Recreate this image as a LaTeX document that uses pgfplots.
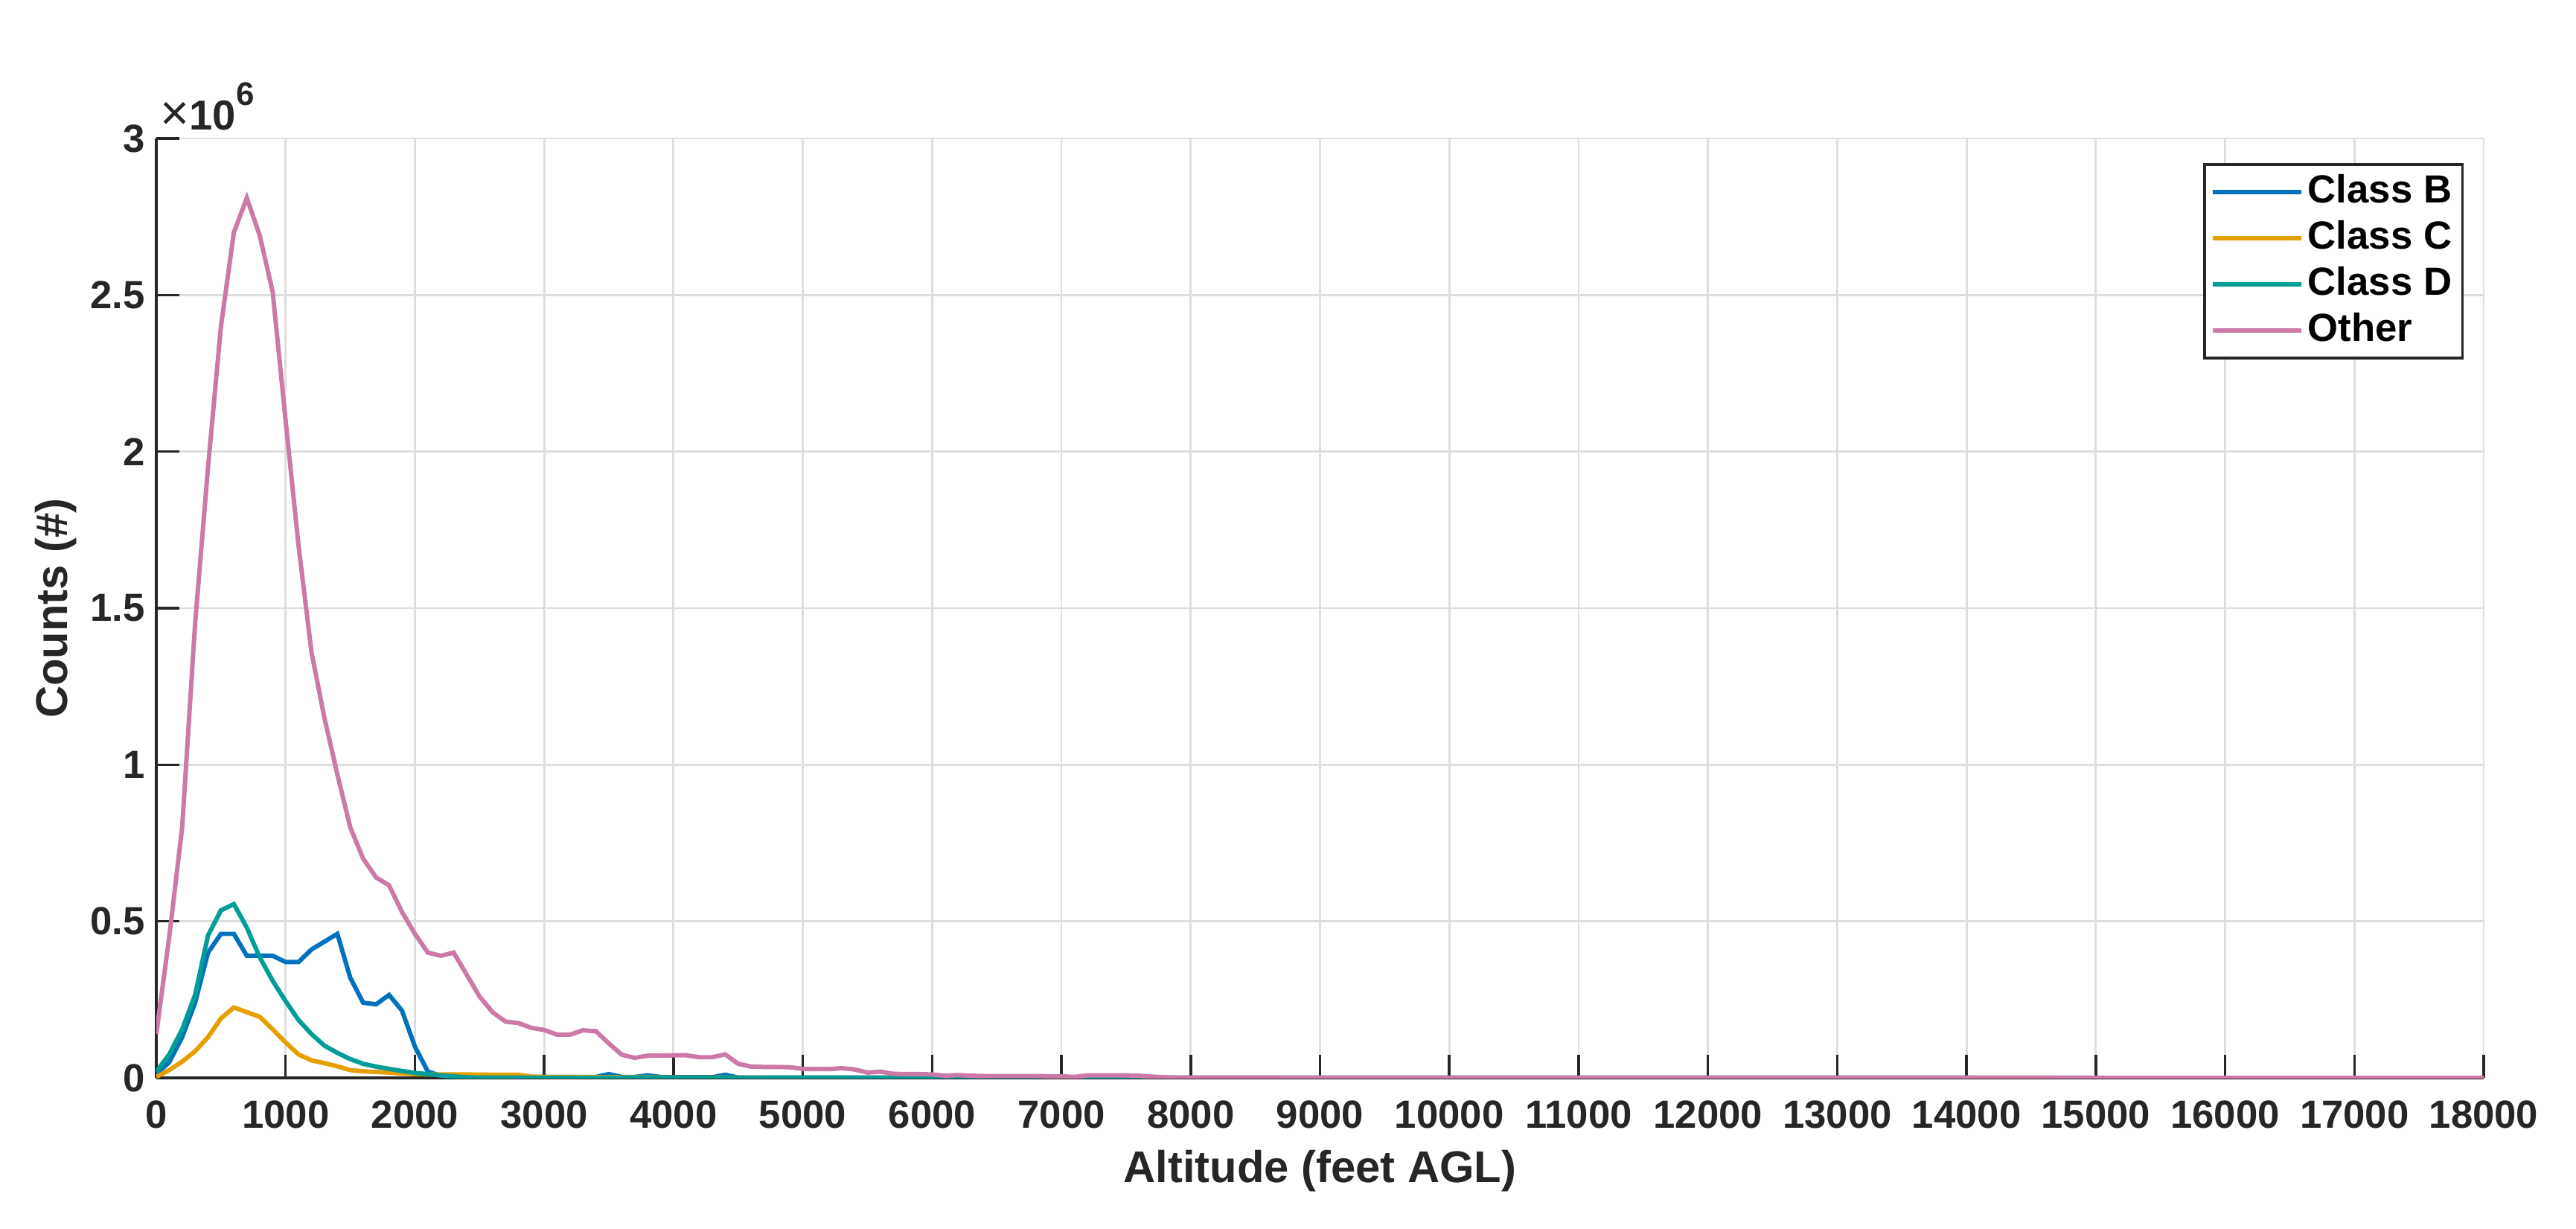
\documentclass[border=0pt]{standalone}
\usepackage{pgfplots}
\pgfplotsset{compat=1.18}
\usepackage{fontspec}
\setmainfont{Liberation Sans}

\definecolor{clsB}{HTML}{0072BD}
\definecolor{clsC}{HTML}{E69F00}
\definecolor{clsD}{HTML}{009E96}
\definecolor{clsO}{HTML}{CC79A7}
\definecolor{axgray}{HTML}{262626}

\newcommand{\tickfont}{\bfseries\fontsize{15}{18}\selectfont}
\newcommand{\labfont}{\bfseries\fontsize{17}{20}\selectfont}

\begin{document}
\begin{tikzpicture}
\useasboundingbox (-2.10cm,-2.02cm) rectangle (32.51cm,14.48cm);
\begin{axis}[
    at={(0,0)}, anchor=south west,
    scale only axis,
    clip mode=individual,
    width=31.27cm, height=12.62cm,
    xmin=0, xmax=18000,
    ymin=0, ymax=3,
    xtick={0,1000,...,18000},
    ytick={0,0.5,...,3},
    axis x line*=bottom,
    axis y line*=left,
    axis line style={axgray, line width=1pt},
    tick align=inside,
    major tick length=0.31cm,
    tick style={axgray, line width=1pt},
    grid=major,
    grid style={black!13, line width=0.8pt},
    /pgf/number format/assume math mode=true,
    /pgf/number format/set thousands separator={},
    scaled x ticks=false,
    scaled y ticks=false,
    ticklabel style={font=\tickfont, text=axgray},
    xticklabel style={yshift=-0.18cm},
    yticklabel style={xshift=-0.03cm},
    xlabel={Altitude (feet AGL)},
    ylabel={Counts (\#)},
    label style={font=\labfont, text=axgray},
    xlabel style={at={(axis description cs:0.5,-0.099)}, anchor=center},
    ylabel style={at={(axis description cs:-0.0432,0.5)}, anchor=center},
    every axis plot/.append style={line width=1.7pt},
    legend cell align=left,
    legend image code/.code={\draw[#1] (0cm,0cm) -- (1.19cm,0cm);},
    legend style={at={(rel axis cs:1,1)}, anchor=north east,
        xshift=-0.27cm, yshift=-0.33cm,
        draw=axgray, line width=1pt, fill=white,
        font=\bfseries\fontsize{15}{18}\selectfont,
        inner xsep=0.08cm, inner ysep=0.06cm,
        nodes={inner sep=0.06cm, text height=0.40cm, text depth=0.10cm}},
]
% Class B
\addplot[clsB] coordinates {
(0,0.012) (100,0.05) (200,0.13) (300,0.24) (400,0.40) (500,0.46) (600,0.46)
(700,0.39) (800,0.39) (900,0.39) (1000,0.37) (1100,0.37) (1200,0.41)
(1300,0.435) (1400,0.46) (1500,0.32) (1600,0.24) (1700,0.235) (1800,0.265)
(1900,0.215) (2000,0.10) (2100,0.02) (2200,0.007) (2300,0.004) (2400,0.003)
(2600,0.003) (2800,0.003) (3000,0.003) (3200,0.003) (3400,0.003) (3500,0.012)
(3600,0.003) (3700,0.003) (3800,0.008) (3900,0.003) (4000,0.002) (4300,0.002)
(4400,0.01) (4500,0.001) (5000,0.001) (6000,0.0005) (8000,0.0002) (18000,0)
};
\addlegendentry{Class B}
% Class C
\addplot[clsC] coordinates {
(0,0.003) (100,0.025) (200,0.052) (300,0.085) (400,0.13) (500,0.19) (600,0.225)
(700,0.21) (800,0.195) (900,0.155) (1000,0.113) (1100,0.075) (1200,0.056)
(1300,0.047) (1400,0.037) (1500,0.025) (1600,0.021) (1700,0.019) (1800,0.017)
(1900,0.014) (2000,0.012) (2100,0.011) (2200,0.011) (2400,0.011) (2600,0.01)
(2800,0.01) (2900,0.004) (3000,0.003) (3500,0.002) (4000,0.001) (5000,0.0005)
(7000,0.0002) (18000,0)
};
\addlegendentry{Class C}
% Class D
\addplot[clsD] coordinates {
(0,0.02) (100,0.075) (200,0.155) (300,0.265) (400,0.455) (500,0.535) (600,0.555)
(700,0.48) (800,0.385) (900,0.31) (1000,0.245) (1100,0.185) (1200,0.14)
(1300,0.103) (1400,0.08) (1500,0.06) (1600,0.045) (1700,0.036) (1800,0.029)
(1900,0.022) (2000,0.016) (2100,0.012) (2200,0.008) (2300,0.005) (2400,0.002)
(2500,0.001) (3000,0.0005) (5000,0.0002) (18000,0)
};
\addlegendentry{Class D}
% Other
\addplot[clsO] coordinates {
(0,0.14) (100,0.45) (200,0.80) (300,1.45) (400,1.95) (500,2.40) (600,2.70)
(700,2.81) (800,2.69) (900,2.51) (1000,2.10) (1100,1.70) (1200,1.36)
(1300,1.15) (1400,0.97) (1500,0.80) (1600,0.70) (1700,0.64) (1800,0.615)
(1900,0.53) (2000,0.46) (2100,0.40) (2200,0.39) (2300,0.40) (2400,0.33)
(2500,0.26) (2600,0.21) (2700,0.18) (2800,0.175) (2900,0.16) (3000,0.153)
(3100,0.138) (3200,0.138) (3300,0.152) (3400,0.149) (3500,0.11) (3600,0.074)
(3700,0.064) (3800,0.071) (3900,0.071) (4000,0.072) (4100,0.072) (4200,0.066)
(4300,0.066) (4400,0.075) (4500,0.045) (4600,0.036) (4700,0.035) (4800,0.035)
(4900,0.034) (5000,0.029) (5100,0.028) (5200,0.028) (5300,0.031) (5400,0.027)
(5500,0.017) (5600,0.02) (5700,0.013) (5800,0.012) (5900,0.012) (6000,0.011)
(6100,0.007) (6200,0.009) (6300,0.007) (6400,0.006) (6500,0.006) (6600,0.006)
(6700,0.006) (6800,0.006) (6900,0.005) (7000,0.005) (7100,0.003) (7200,0.008)
(7300,0.008) (7400,0.008) (7500,0.008) (7600,0.007) (7700,0.004) (7800,0.002)
(7900,0.001) (8000,0.001) (9000,0.0005) (10000,0.0003) (12000,0.0002)
(18000,0.0001)
};
\addlegendentry{Other}
\node[anchor=south west, inner sep=0pt, text=axgray, xshift=0.05cm, yshift=0.10cm]
    at (rel axis cs:0,1)
    {\fontsize{19}{20}\selectfont ×\bfseries\fontsize{16}{18}\selectfont 10\raisebox{0.6em}{\fontsize{12.5}{14}\selectfont 6}};
\end{axis}
\end{tikzpicture}
\end{document}
